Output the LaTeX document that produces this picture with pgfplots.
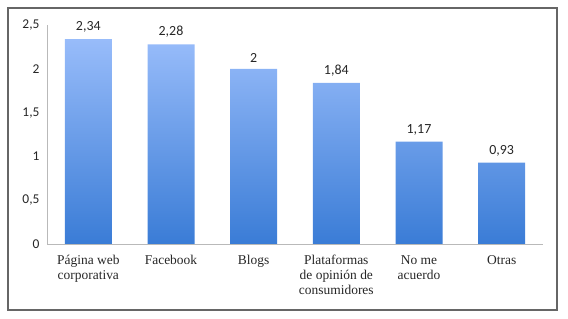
\documentclass[border=0pt]{standalone}
\usepackage{pgfplots}
\pgfplotsset{compat=1.18}
\usepackage{fontspec}
\setmainfont{Liberation Serif}
\newfontfamily\numfont{Carlito}
\definecolor{bartop}{RGB}{152,188,250}
\definecolor{barbot}{RGB}{58,124,214}
\begin{document}
\begin{tikzpicture}
\path[use as bounding box] (0,0) rectangle (568bp,319bp);
\draw[gray!80!black, line width=1.2bp] (8bp,9bp) rectangle (557bp,311bp);
\begin{axis}[
  at={(47bp,75bp)}, anchor=south west,
  scale only axis,
  width=496bp, height=219bp,
  xmin=-0.5, xmax=5.5, ymin=0, ymax=2.5,
  axis x line=bottom, axis y line=left,
  axis line style={-, gray!55},
  ytick={0,0.5,1,1.5,2,2.5},
  xtick={0,1,2,3,4,5},
  xticklabels={P\'agina web\\corporativa, Facebook, Blogs, Plataformas\\de opini\'on de\\consumidores, No me\\acuerdo, Otras},
  xticklabel style={font=\fontsize{13.5}{15}\selectfont, align=center, text=black!85, anchor=north, yshift=-8bp},
  yticklabel style={font=\numfont\fontsize{13.5}{15}\selectfont, text=black!85, xshift=-4bp},
  major tick length=0pt,
  /pgf/number format/.cd, use comma, fixed, assume math mode=true,
  /pgfplots/.cd,
  ybar, bar width=47bp,
  nodes near coords,
  every node near coord/.append style={font=\numfont\fontsize{14}{16}\selectfont, text=black!85, yshift=3bp},
  clip=false,
]
\addplot[draw=none, top color=bartop, bottom color=barbot] coordinates {(0,2.34) (1,2.28) (2,2) (3,1.84) (4,1.17) (5,0.93)};
\end{axis}
\end{tikzpicture}
\end{document}
